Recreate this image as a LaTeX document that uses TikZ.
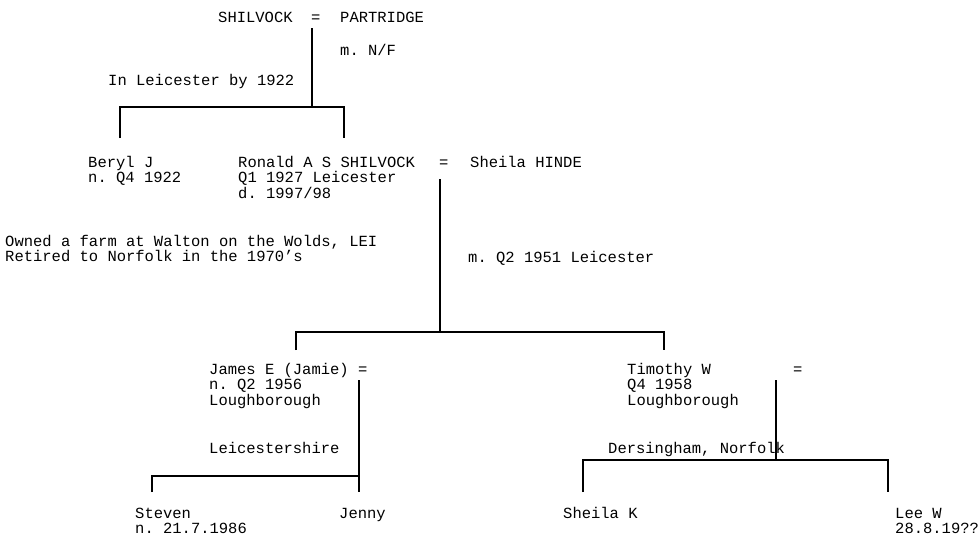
\documentclass[tikz,border=0pt]{standalone}
\usepackage{fontspec}
\newfontfamily\treefont{Liberation Mono}
\frenchspacing
\usetikzlibrary{positioning}
\begin{document}
\begin{tikzpicture}[x=1pt,y=-1pt,
  txt/.style={anchor=base west,inner sep=0pt,align=left,font=\treefont\fontsize{15.5}{15.5}\selectfont},
  link/.style={line width=2.8pt,line join=miter}]
\useasboundingbox (0,0) rectangle (978,536);
\node[txt] (shilvock) at (218,22) {SHILVOCK};
\node[txt] (eq1) at (311,22) {=};
\node[txt] (partridge) at (340,22) {PARTRIDGE};
\node[txt] (mnf) at (340,55) {m. N/F};
\node[txt] (leic1922) at (108,85) {In Leicester by 1922};
\node[txt] (beryl) at (88,182.5) {Beryl J\\n. Q4 1922};
\node[txt] (ronald) at (238,198) {Ronald A S SHILVOCK\\Q1 1927 Leicester\\d. 1997/98};
\node[txt] (eq2) at (439,167) {=};
\node[txt] (sheila) at (470,167) {Sheila HINDE};
\node[txt] (farm) at (5,261.5) {Owned a farm at Walton on the Wolds, LEI\\Retired to Norfolk in the 1970’s};
\node[txt] (mq2) at (468,262) {m. Q2 1951 Leicester};
\node[txt] (james) at (209,405) {James E (Jamie) =\\n. Q2 1956\\Loughborough};
\node[txt] (timothy) at (627,405) {Timothy W\\Q4 1958\\Loughborough};
\node[txt] (eq3) at (793,374) {=};
\node[txt] (leicshire) at (209,453) {Leicestershire};
\node[txt] (dersingham) at (608,453) {Dersingham, Norfolk};
\node[txt] (steven) at (135,533.5) {Steven\\n. 21.7.1986};
\node[txt] (jenny) at (339,518) {Jenny};
\node[txt] (sheilak) at (563,518) {Sheila K};
\node[txt] (lee) at (895,533.5) {Lee W\\28.8.19??};
\coordinate (p1) at (312,28);
\coordinate (bar1) at (312,107);
\coordinate (d1a) at (120,138);
\coordinate (d1b) at (344,138);
\coordinate (p2) at (440,179);
\coordinate (bar2) at (440,332);
\coordinate (d2a) at (296,350);
\coordinate (d2b) at (664,350);
\coordinate (p3) at (359,380);
\coordinate (bar3) at (359,476);
\coordinate (d3a) at (152,492);
\coordinate (d3b) at (359,492);
\coordinate (p4) at (776,380);
\coordinate (bar4) at (776,460);
\coordinate (d4a) at (583,492);
\coordinate (d4b) at (888,492);
\draw[link] (p1) -- (bar1);
\draw[link] (d1a) |- (bar1) -| (d1b);
\draw[link] (p2) -- (bar2);
\draw[link] (d2a) |- (bar2) -| (d2b);
\draw[link] (p3) -- (d3b);
\draw[link] (d3a) |- (bar3);
\draw[link] (p4) -- (bar4);
\draw[link] (d4a) |- (bar4) -| (d4b);
\end{tikzpicture}
\end{document}
